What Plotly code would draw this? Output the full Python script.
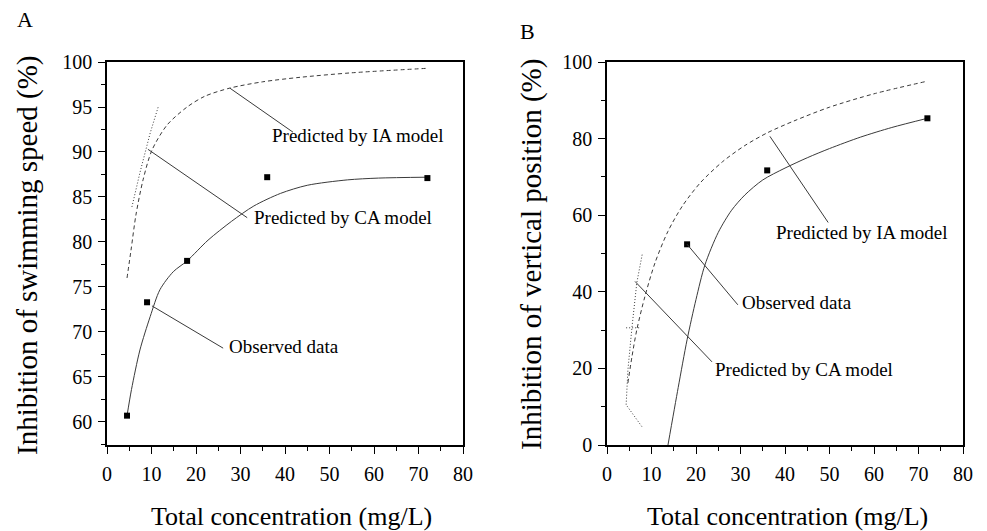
import plotly.graph_objects as go

# ---------------- Panel A data ----------------
obsA_x = [4.5, 9, 18, 36, 72]
obsA_y = [60.7, 73.3, 77.9, 87.2, 87.1]

fitA_x = [4.5, 5.5, 7.4, 9.7, 11.9, 14.9, 18, 22.7, 28, 33, 39, 45, 54, 61, 72]
fitA_y = [60.7, 63.6, 68.0, 71.7, 74.7, 76.7, 77.9, 80.2, 82.3, 84.0, 85.4, 86.3, 86.9, 87.1, 87.2]

iaA_x = [4.5, 5.4, 6.5, 8.1, 10.1, 13.5, 18, 22, 27.6, 35, 43.4, 55, 72]
iaA_y = [76.0, 79.1, 83.0, 86.9, 90.2, 93.0, 95.0, 96.2, 97.1, 97.8, 98.3, 98.8, 99.3]

caA_x = [5.6, 7.4, 9.7, 11.5]
caA_y = [83.9, 87.7, 92.1, 95.0]

# ---------------- Panel B data ----------------
obsB_x = [18, 36, 72]
obsB_y = [52.4, 71.7, 85.3]

fitB_x = [13.7, 16, 18, 20, 22, 25, 28, 31, 35, 40, 45, 50, 57, 64, 72]
fitB_y = [0, 15, 27.5, 38, 47, 55.5, 61.3, 65.3, 69.2, 72.3, 75.0, 77.4, 80.4, 82.9, 85.3]

iaB_x = [4.7, 5.6, 6.7, 8.5, 10.8, 13.7, 17, 21, 26, 31, 36, 42, 50, 60, 72]
iaB_y = [16.2, 23, 30.1, 38.7, 47.6, 55.8, 62.5, 68.5, 74.0, 78.2, 81.5, 84.6, 88.2, 91.7, 95.0]

caB_x = [7.9, 6.7, 5.6, 4.7, 4.3, 7.9]
caB_y = [49.7, 42.4, 30.6, 19.6, 10.5, 4.7]
caB_bar_x = [4.3, 7.6]
caB_bar_y = [30.6, 30.6]

# ---------------- Labels / pointers ----------------
labelsA = ["Predicted by IA model", "Predicted by CA model", "Observed data"]
ptrA_from = [(27.6, 97.1), (9.2, 90.3), (10.1, 72.9)]
ptrA_to = [(41.8, 92.2), (31.5, 82.7), (26.1, 68.2)]
txtA_pos = [(36.6, 91.8), (32.6, 82.7), (27.0, 68.4)]

labelsB = ["Predicted by IA model", "Observed data", "Predicted by CA model"]
ptrB_from = [(36.6, 80.6), (18, 52.4), (6.3, 42.7)]
ptrB_to = [(49.7, 58.1), (29.4, 36.6), (23.6, 21.7)]
txtB_pos = [(37.5, 55.5), (29.9, 37.2), (23.8, 19.6)]

FONT = "Liberation Serif"
LC = "#3a3a3a"

fig = go.Figure()

def add_panel(xa, ya, fit_x, fit_y, ia_x, ia_y, ca_x, ca_y, obs_x, obs_y):
    fig.add_trace(go.Scatter(x=fit_x, y=fit_y, mode="lines", xaxis=xa, yaxis=ya,
                             line=dict(color=LC, width=1, shape="spline", smoothing=0.8)))
    fig.add_trace(go.Scatter(x=ia_x, y=ia_y, mode="lines", xaxis=xa, yaxis=ya,
                             line=dict(color=LC, width=1, dash="4px,3px", shape="spline", smoothing=0.8)))
    fig.add_trace(go.Scatter(x=ca_x, y=ca_y, mode="lines", xaxis=xa, yaxis=ya,
                             line=dict(color=LC, width=1, dash="1px,2px")))
    fig.add_trace(go.Scatter(x=obs_x, y=obs_y, mode="markers", xaxis=xa, yaxis=ya,
                             marker=dict(symbol="square", size=6, color="black")))

add_panel("x", "y", fitA_x, fitA_y, iaA_x, iaA_y, caA_x, caA_y, obsA_x, obsA_y)
add_panel("x2", "y2", fitB_x, fitB_y, iaB_x, iaB_y, caB_x, caB_y, obsB_x, obsB_y)
fig.add_trace(go.Scatter(x=caB_bar_x, y=caB_bar_y, mode="lines", xaxis="x2", yaxis="y2",
                         line=dict(color=LC, width=1, dash="1px,2px")))

shapes = []
annotations = []
for (f, t, p, lab) in zip(ptrA_from, ptrA_to, txtA_pos, labelsA):
    shapes.append(dict(type="line", xref="x", yref="y", x0=f[0], y0=f[1], x1=t[0], y1=t[1],
                       line=dict(color=LC, width=1)))
    annotations.append(dict(xref="x", yref="y", x=p[0], y=p[1], text=lab, showarrow=False,
                            xanchor="left", yanchor="middle", font=dict(family=FONT, size=19, color="black")))
for (f, t, p, lab) in zip(ptrB_from, ptrB_to, txtB_pos, labelsB):
    shapes.append(dict(type="line", xref="x2", yref="y2", x0=f[0], y0=f[1], x1=t[0], y1=t[1],
                       line=dict(color=LC, width=1)))
    annotations.append(dict(xref="x2", yref="y2", x=p[0], y=p[1], text=lab, showarrow=False,
                            xanchor="left", yanchor="middle", font=dict(family=FONT, size=19, color="black")))

W, H = 987, 531
def px(xp):
    return xp / W
def py(yp):
    return 1 - yp / H

def ptxt(x, y, text, size, angle=0):
    return dict(xref="paper", yref="paper", x=px(x), y=py(y), text=text, showarrow=False,
                xanchor="center", yanchor="middle", textangle=angle,
                font=dict(family=FONT, size=size, color="black"))

annotations += [
    ptxt(25, 20, "A", 22),
    ptxt(527, 32, "B", 22),
    ptxt(27, 255, "Inhibition of swimming speed (%)", 29, -90),
    ptxt(531, 255, "Inhibition of vertical position (%)", 29, -90),
    ptxt(291, 516, "Total concentration (mg/L)", 26),
    ptxt(787, 516, "Total concentration (mg/L)", 26),
]

common = dict(showline=True, linecolor="black", linewidth=1.5, mirror=True, showgrid=False,
              zeroline=False, ticks="outside", ticklen=7, tickwidth=1.3, tickcolor="black",
              automargin=False, tickfont=dict(family=FONT, size=20, color="black"))
minor_style = dict(ticks="outside", ticklen=4, tickwidth=1.3, tickcolor="black")

fig.update_layout(
    width=W, height=H, margin=dict(l=0, r=0, t=0, b=0, autoexpand=False),
    paper_bgcolor="white", plot_bgcolor="white", showlegend=False,
    shapes=shapes, annotations=annotations,
    xaxis=dict(domain=[px(107), px(463)], range=[0, 80], dtick=10, tick0=0, anchor="y",
               minor=dict(dtick=5, **minor_style), ticklabelstandoff=3, **common),
    yaxis=dict(domain=[py(445), py(62)], range=[57.44, 100], dtick=5, tick0=0, anchor="x",
               minor=dict(dtick=2.5, **minor_style), ticklabelstandoff=2, **common),
    xaxis2=dict(domain=[px(607), px(963)], range=[0, 80], dtick=10, tick0=0, anchor="y2",
                minor=dict(dtick=5, **minor_style), ticklabelstandoff=3, **common),
    yaxis2=dict(domain=[py(445), py(62)], range=[0, 100], dtick=20, tick0=0, anchor="x2",
                minor=dict(dtick=10, **minor_style), ticklabelstandoff=2, **common),
)

fig.write_html("out.html")
